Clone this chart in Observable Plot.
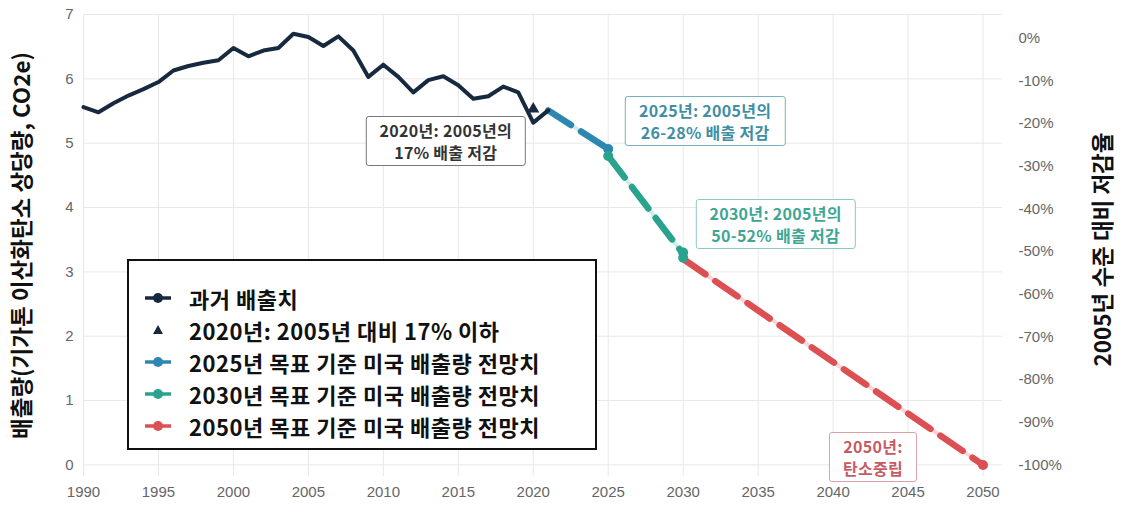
<!DOCTYPE html>
<html><head><meta charset="utf-8">
<script src="https://cdn.jsdelivr.net/npm/d3@7"></script>
<script src="https://cdn.jsdelivr.net/npm/@observablehq/plot@0.6"></script>
<style>
body{margin:0;background:#fff;font-family:"Noto Sans CJK KR","Noto Sans",sans-serif}
#wrap{position:relative;width:1122px;height:512px;overflow:hidden}
.note{position:absolute;transform:translate(-50%,-50%);border:1.5px solid #888;border-radius:3px;background:#fff;font-size:16px;font-weight:700;line-height:22px;text-align:center;padding:2px 13px 2px;white-space:nowrap;letter-spacing:0.3px}
#legend{position:absolute;left:127px;top:259px;width:466px;border:2px solid #111;background:#fff;padding:21px 0 6px 0;font-size:22px;font-weight:700;color:#111;letter-spacing:0.5px}
#legend .row{height:32px;line-height:32px;display:flex;align-items:center}
#legend svg{width:30px;height:32px;margin-left:14px;margin-right:16px;flex:none}
</style></head><body><div id="wrap"></div><script>
// ---- data ----
const histYears = [1990,1991,1992,1993,1994,1995,1996,1997,1998,1999,2000,2001,2002,2003,2004,2005,2006,2007,2008,2009,2010,2011,2012,2013,2014,2015,2016,2017,2018,2019,2020,2021];
const histValues = [5.56,5.48,5.62,5.74,5.84,5.95,6.13,6.20,6.25,6.29,6.48,6.35,6.44,6.48,6.70,6.65,6.51,6.66,6.44,6.03,6.22,6.03,5.79,5.98,6.04,5.90,5.69,5.73,5.88,5.79,5.32,5.51];
const markYear = [2020];
const markValue = [5.53];
const p25Years = [2021, 2025];
const p25Values = [5.51, 4.91];
const p30Years = [2025, 2030];
const p30Values = [4.80, 3.28];
const p30DotYears = [2025, 2030, 2030];
const p30DotValues = [4.80, 3.30, 3.22];
const p50Years = [2030, 2050];
const p50Values = [3.20, 0];
const base2005 = 6.63;
const xTicks = [1990,1995,2000,2005,2010,2015,2020,2025,2030,2035,2040,2045,2050];
const yTicks = [0,1,2,3,4,5,6,7];
const pctTicks = [0,-10,-20,-30,-40,-50,-60,-70,-80,-90,-100];
const leftTitle = "배출량(기가톤 이산화탄소 상당량, CO2e)";
const rightTitle = "2005년 수준 대비 저감율";
const legendLabels = ["과거 배출치","2020년: 2005년 대비 17% 이하","2025년 목표 기준 미국 배출량 전망치","2030년 목표 기준 미국 배출량 전망치","2050년 목표 기준 미국 배출량 전망치"];
const notes = [
  {year: 2014.2, value: 5.02, lines: ["2020년: 2005년의","17% 배출 저감"], color:"#333", border:"#777"},
  {year: 2031.5, value: 5.33, lines: ["2025년: 2005년의","26-28% 배출 저감"], color:"#3f8ea6", border:"#79afc2"},
  {year: 2036.2, value: 3.73, lines: ["2030년: 2005년의","50-52% 배출 저감"], color:"#3fa595", border:"#8ccabe"},
  {year: 2042.7, value: 0.11, lines: ["2050년:","탄소중립"], color:"#c65b64", border:"#d9a2a7"}
];
const C = {hist:"#17293f", b:"#2e87b0", t:"#2aa38e", r:"#dc4f52", bl:"#cfe9f2", tl:"#cdeee5", rl:"#f8d5d7"};

const toRows = (xs, vs) => xs.map((x, i) => ({year: x, value: vs[i]}));
const hist = toRows(histYears, histValues);
const p25 = toRows(p25Years, p25Values);
const p30 = toRows(p30Years, p30Values);
const p30d = toRows(p30DotYears, p30DotValues);
const p50 = toRows(p50Years, p50Values);
const tri = toRows(markYear, markValue);

const dash = "27,12";
const titleFont = "'Noto Sans CJK KR', sans-serif";
const chart = Plot.plot({
  width: 1122, height: 512,
  marginLeft: 83, marginRight: 120, marginTop: 14, marginBottom: 36,
  x: {domain: [1990, 2051.3]},
  y: {domain: [-0.18, 7]},
  style: {fontFamily: "'Liberation Sans', Arial, sans-serif", fontSize: "15px", color: "#666", background: "#fff"},
  marks: [
    Plot.gridX(xTicks, {stroke: "#e8e8e8", strokeOpacity: 1}),
    Plot.gridY(yTicks, {stroke: "#e8e8e8", strokeOpacity: 1}),
    Plot.axisX(xTicks, {tickSize: 0, tickPadding: 10, tickFormat: d => String(d), label: null}),
    Plot.axisY(yTicks, {tickSize: 0, tickPadding: 10, tickFormat: d => String(d), label: null}),
    Plot.axisY(pctTicks.map(p => base2005 * (1 + p / 100)), {anchor: "right", tickSize: 0, tickPadding: 16, tickFormat: d => Math.round((d / base2005 - 1) * 100) + "%", label: null}),
    Plot.text([leftTitle], {frameAnchor: "left", textAnchor: "middle", dx: -61, rotate: -90, fontSize: 22.5, fontWeight: 700, fill: "#111", fontFamily: titleFont}),
    Plot.text([rightTitle], {frameAnchor: "right", textAnchor: "middle", dx: 101, dy: 4, rotate: -90, fontSize: 22.5, fontWeight: 700, fill: "#111", fontFamily: titleFont}),
    Plot.line(p50, {x: "year", y: "value", stroke: C.rl, strokeWidth: 4}),
    Plot.line(p50, {x: "year", y: "value", stroke: C.r, strokeWidth: 6.5, strokeDasharray: dash}),
    Plot.line(p30, {x: "year", y: "value", stroke: C.tl, strokeWidth: 4}),
    Plot.line(p30, {x: "year", y: "value", stroke: C.t, strokeWidth: 6.5, strokeDasharray: dash}),
    Plot.line(p25, {x: "year", y: "value", stroke: C.bl, strokeWidth: 4}),
    Plot.line(p25, {x: "year", y: "value", stroke: C.b, strokeWidth: 6.5, strokeDasharray: dash}),
    Plot.line(hist, {x: "year", y: "value", stroke: C.hist, strokeWidth: 4, strokeLinejoin: "round"}),
    Plot.dot(tri, {x: "year", y: "value", symbol: "triangle", r: 4.5, fill: C.hist}),
    Plot.dot([p25[1]], {x: "year", y: "value", r: 5, fill: C.b}),
    Plot.dot(p30d, {x: "year", y: "value", r: 5, fill: C.t}),
    Plot.dot([p50[1]], {x: "year", y: "value", r: 5, fill: C.r})
  ]
});
const wrap = document.getElementById("wrap");
wrap.appendChild(chart);

const xs = chart.scale("x"), ys = chart.scale("y");
for (const n of notes) {
  const d = document.createElement("div");
  d.className = "note";
  d.style.left = xs.apply(n.year) + "px";
  d.style.top = ys.apply(n.value) + "px";
  d.style.color = n.color;
  d.style.borderColor = n.border;
  d.innerHTML = n.lines.join("<br>");
  wrap.appendChild(d);
}

const icon = (c, kind) => kind === "tri"
  ? `<svg viewBox="0 0 30 32"><path d="M15 11 L20 20 L10 20 Z" fill="${c}"/></svg>`
  : `<svg viewBox="0 0 30 32"><line x1="2" y1="16" x2="28" y2="16" stroke="${c}" stroke-width="3.5"/><circle cx="15" cy="16" r="5" fill="${c}"/></svg>`;
const legendStyles = [[C.hist,"line"],[C.hist,"tri"],[C.b,"line"],[C.t,"line"],[C.r,"line"]];
const lg = document.createElement("div");
lg.id = "legend";
lg.innerHTML = legendLabels.map((t, i) => `<div class="row">${icon(legendStyles[i][0], legendStyles[i][1])}<span>${t}</span></div>`).join("");
wrap.appendChild(lg);
</script></body></html>
